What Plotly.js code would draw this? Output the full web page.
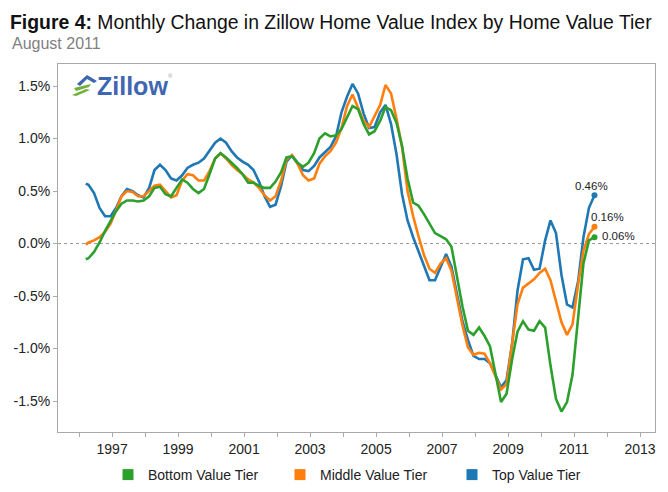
<!DOCTYPE html>
<html>
<head>
<meta charset="utf-8">
<script src="https://cdn.plot.ly/plotly-3.0.1.min.js"></script>
<style>
  html, body { margin: 0; padding: 0; background: #fff; }
  #chart { width: 668px; height: 492px; }
</style>
</head>
<body>
<div id="chart"></div>
<script>
// ---- Data ----
const dates = [
  '1996-03-15','1996-04-15','1996-06-15','1996-08-15','1996-10-15','1996-12-15',
  '1997-02-15','1997-04-15','1997-06-15','1997-08-15','1997-10-15','1997-12-15',
  '1998-02-15','1998-04-15','1998-06-15','1998-08-15','1998-10-15','1998-12-15',
  '1999-02-15','1999-04-15','1999-06-15','1999-08-15','1999-10-15','1999-12-15',
  '2000-02-15','2000-04-15','2000-06-15','2000-08-15','2000-10-15','2000-12-15',
  '2001-02-15','2001-04-15','2001-06-15','2001-08-15','2001-10-15','2001-12-15',
  '2002-02-15','2002-04-15','2002-06-15','2002-08-15','2002-10-15','2002-12-15',
  '2003-02-15','2003-04-15','2003-06-15','2003-08-15','2003-10-15','2003-12-15',
  '2004-02-15','2004-04-15','2004-06-15','2004-08-15','2004-10-15','2004-12-15',
  '2005-02-15','2005-04-15','2005-06-15','2005-08-15','2005-10-15','2005-12-15',
  '2006-02-15','2006-04-15','2006-06-15','2006-08-15','2006-10-15','2006-12-15',
  '2007-02-15','2007-04-15','2007-06-15','2007-08-15','2007-10-15','2007-12-15',
  '2008-02-15','2008-04-15','2008-06-15','2008-08-15','2008-10-15','2008-12-15',
  '2009-02-15','2009-04-15','2009-06-15','2009-08-15','2009-10-15','2009-12-15',
  '2010-02-15','2010-04-15','2010-06-15','2010-08-15','2010-10-15','2010-12-15',
  '2011-02-15','2011-04-15','2011-06-15','2011-08-15'
];

const topTier = [
  0.57,0.56,0.48,0.34,0.26,0.26,
  0.34,0.45,0.52,0.50,0.46,0.44,
  0.53,0.70,0.75,0.70,0.62,0.60,
  0.65,0.72,0.75,0.77,0.81,0.88,
  0.96,1.00,0.96,0.88,0.82,0.78,
  0.75,0.70,0.59,0.45,0.35,0.37,
  0.55,0.78,0.84,0.77,0.70,0.69,
  0.74,0.82,0.87,0.92,1.02,1.25,
  1.40,1.52,1.43,1.24,1.10,1.11,
  1.25,1.32,1.14,0.85,0.47,0.22,
  0.06,-0.07,-0.21,-0.35,-0.35,-0.23,
  -0.10,-0.22,-0.49,-0.74,-0.92,-1.07,
  -1.10,-1.10,-1.14,-1.26,-1.37,-1.30,
  -0.95,-0.45,-0.15,-0.14,-0.25,-0.24,
  0.03,0.22,0.10,-0.30,-0.58,-0.61,
  -0.36,0.06,0.34,0.46
];

const middleTier = [
  -0.01,0.01,0.03,0.06,0.11,0.19,
  0.32,0.45,0.50,0.49,0.45,0.45,
  0.50,0.55,0.56,0.50,0.44,0.46,
  0.60,0.66,0.65,0.60,0.60,0.69,
  0.81,0.86,0.81,0.75,0.70,0.66,
  0.61,0.58,0.53,0.46,0.41,0.45,
  0.60,0.80,0.84,0.76,0.65,0.60,
  0.62,0.76,0.83,0.88,0.96,1.10,
  1.31,1.42,1.30,1.17,1.11,1.21,
  1.32,1.51,1.43,1.19,0.92,0.50,
  0.26,0.07,-0.11,-0.24,-0.28,-0.19,
  -0.14,-0.26,-0.51,-0.78,-0.99,-1.06,
  -1.04,-1.05,-1.14,-1.26,-1.39,-1.34,
  -0.95,-0.58,-0.42,-0.38,-0.34,-0.28,
  -0.24,-0.35,-0.55,-0.75,-0.87,-0.77,
  -0.39,-0.07,0.09,0.16
];

const bottomTier = [
  -0.15,-0.14,-0.08,0.01,0.12,0.22,
  0.31,0.38,0.41,0.41,0.40,0.41,
  0.45,0.53,0.54,0.47,0.45,0.53,
  0.61,0.58,0.52,0.48,0.52,0.66,
  0.81,0.86,0.82,0.77,0.72,0.66,
  0.58,0.58,0.55,0.53,0.53,0.59,
  0.68,0.82,0.83,0.77,0.73,0.77,
  0.86,1.00,1.05,1.02,1.03,1.09,
  1.21,1.31,1.28,1.14,1.04,1.07,
  1.17,1.30,1.27,1.15,0.93,0.62,
  0.39,0.36,0.28,0.19,0.10,0.07,
  0.04,-0.03,-0.31,-0.60,-0.83,-0.87,
  -0.80,-0.88,-0.98,-1.23,-1.51,-1.43,
  -1.10,-0.84,-0.74,-0.82,-0.83,-0.74,
  -0.80,-1.16,-1.48,-1.60,-1.51,-1.25,
  -0.72,-0.19,0.03,0.06
];

const seriesNames = ['Bottom Value Tier', 'Middle Value Tier', 'Top Value Tier'];
const seriesColors = ['#2ca02c', '#ff7f0e', '#1f77b4'];

const yTickVals = [-1.5, -1.0, -0.5, 0.0, 0.5, 1.0, 1.5];
const yTickText = ['-1.5%', '-1.0%', '-0.5%', '0.0%', '0.5%', '1.0%', '1.5%'];

const xTickYears = [1996,1997,1998,1999,2000,2001,2002,2003,2004,2005,2006,2007,2008,2009,2010,2011,2012,2013];
const xLabelYears = [1997,1999,2001,2003,2005,2007,2009,2011,2013];

// ---- Layout helpers (pixel -> paper) ----
const W = 668, H = 492;
const M = { l: 58, r: 13, t: 64, b: 60, autoexpand: false };
const PW = W - M.l - M.r, PH = H - M.t - M.b;
const px = x => (x - M.l) / PW;
const py = y => (H - M.b - y) / PH;

const FONT = 'Liberation Sans, Arial, sans-serif';

const allSeries = [
  { name: seriesNames[2], y: topTier, color: seriesColors[2] },
  { name: seriesNames[1], y: middleTier, color: seriesColors[1] },
  { name: seriesNames[0], y: bottomTier, color: seriesColors[0] }
];

const traces = [];
allSeries.forEach(s => {
  traces.push({
    type: 'scatter', mode: 'lines', x: dates, y: s.y, name: s.name,
    line: { color: s.color, width: 2.6 }, showlegend: false, hoverinfo: 'skip'
  });
});
// end-point dots
allSeries.forEach(s => {
  traces.push({
    type: 'scatter', mode: 'markers',
    x: [dates[dates.length - 1]], y: [s.y[s.y.length - 1]],
    marker: { color: s.color, size: 6 }, showlegend: false, hoverinfo: 'skip'
  });
});
// legend entries (square swatches)
seriesNames.forEach((n, i) => {
  traces.push({
    type: 'scatter', mode: 'markers', x: [null], y: [null], name: n,
    marker: { color: seriesColors[i], symbol: 'square', size: 11 }, showlegend: true
  });
});

const last = dates[dates.length - 1];
const endLabel = (v, xs, ys) => ({
  x: last, y: v, xref: 'x', yref: 'y', text: v.toFixed(2) + '%', showarrow: false,
  xshift: xs, yshift: ys, font: { family: FONT, size: 11.5, color: '#222' }
});

const annotations = [
  { xref: 'paper', yref: 'paper', x: px(10), y: py(44), xanchor: 'left', yanchor: 'middle',
    text: 'August 2011', showarrow: false, font: { family: FONT, size: 16, color: '#7f7f7f' } },
  { xref: 'paper', yref: 'paper', x: px(95), y: py(86), xanchor: 'left', yanchor: 'middle',
    text: '<b>Zillow</b>', showarrow: false, font: { family: FONT, size: 25, color: '#3f66b0' } },
  { xref: 'paper', yref: 'paper', x: px(166), y: py(76), xanchor: 'left', yanchor: 'middle',
    text: '®', showarrow: false, font: { family: FONT, size: 6, color: '#999' } },
  endLabel(topTier[topTier.length - 1], -3, 9),
  endLabel(middleTier[middleTier.length - 1], 13, 10),
  endLabel(bottomTier[bottomTier.length - 1], 24, 1)
];

const P = (x, y) => px(x).toFixed(4) + ',' + py(y).toFixed(4);
const shapes = [
  { type: 'line', xref: 'paper', yref: 'y', x0: 0, x1: 1, y0: 0, y1: 0,
    line: { color: '#999', width: 1, dash: 'dot' }, layer: 'below' },
  // Zillow icon: blue roof + green stripes
  { type: 'path', xref: 'paper', yref: 'paper', line: { width: 0 }, fillcolor: '#3f66b0',
    path: 'M' + P(77, 84) + 'L' + P(87, 75) + 'L' + P(97, 81) + 'L' + P(94, 83) + 'L' + P(87, 79) + 'L' + P(80, 86) + 'Z' },
  { type: 'path', xref: 'paper', yref: 'paper', line: { width: 0 }, fillcolor: '#6fb03a',
    path: 'M' + P(74, 88) + 'L' + P(91, 84) + 'L' + P(89, 87) + 'L' + P(76, 91) + 'Z' },
  { type: 'path', xref: 'paper', yref: 'paper', line: { width: 0 }, fillcolor: '#6fb03a',
    path: 'M' + P(72, 95) + 'L' + P(86, 89) + 'L' + P(90, 90) + 'L' + P(76, 96) + 'Z' }
];

const layout = {
  width: W, height: H,
  margin: M,
  paper_bgcolor: '#fff', plot_bgcolor: '#fff',
  font: { family: FONT, size: 14, color: '#222' },
  title: {
    text: '<b>Figure 4:</b> Monthly Change in Zillow Home Value Index by Home Value Tier',
    font: { family: FONT, size: 19.4, color: '#111' },
    xref: 'container', yref: 'container', x: 10 / W, xanchor: 'left', y: 1 - 22 / H, yanchor: 'middle'
  },
  xaxis: {
    type: 'date',
    range: ['1995-05-13', '2013-06-15'],
    tickvals: xTickYears.map(y => y + '-01-01'),
    ticktext: xTickYears.map(y => xLabelYears.includes(y) ? String(y) : ''),
    ticks: 'outside', ticklen: 4, tickcolor: '#aaa', tickwidth: 1,
    showgrid: false, zeroline: false,
    showline: true, linecolor: '#aaa', linewidth: 1, mirror: true,
    tickfont: { family: FONT, size: 14, color: '#222' }
  },
  yaxis: {
    range: [-1.795, 1.71],
    tickvals: yTickVals, ticktext: yTickText,
    ticks: 'outside', ticklen: 4, tickcolor: '#aaa', tickwidth: 1,
    showgrid: false, zeroline: false,
    showline: true, linecolor: '#aaa', linewidth: 1, mirror: true,
    tickfont: { family: FONT, size: 14, color: '#222' }
  },
  showlegend: true,
  legend: {
    orientation: 'h', x: px(108), xanchor: 'left', y: py(475), yanchor: 'middle',
    font: { family: FONT, size: 14, color: '#222' },
    entrywidth: 127, entrywidthmode: 'pixels', traceorder: 'normal',
    bgcolor: 'rgba(0,0,0,0)'
  },
  annotations: annotations,
  shapes: shapes
};

Plotly.newPlot('chart', traces, layout, { displayModeBar: false, staticPlot: true });
</script>
</body>
</html>
